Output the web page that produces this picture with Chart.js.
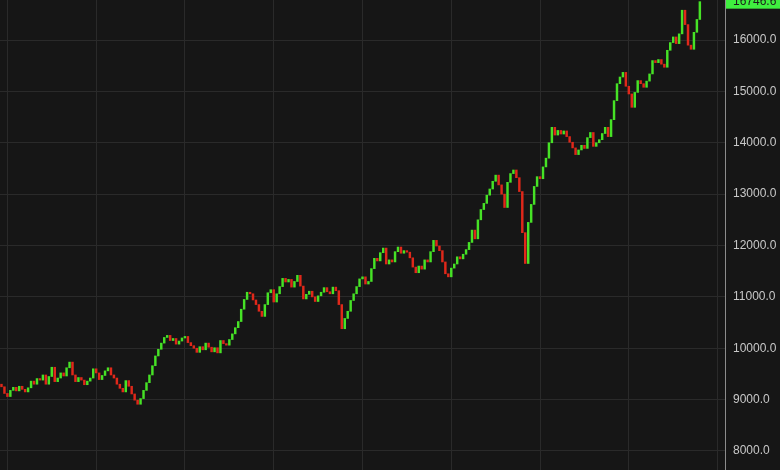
<!DOCTYPE html>
<html>
<head>
<meta charset="utf-8">
<script src="https://cdn.jsdelivr.net/npm/chart.js@4/dist/chart.umd.min.js"></script>
<style>
  body { margin: 0; background: #161616; }
  canvas { display: block; }
</style>
</head>
<body>
<canvas id="chartCanvas" width="780" height="470"></canvas>
<script>
// closing prices, one per session
const firstOpen = 9300;
const closes = [
    9250, 9120, 9060, 9180, 9240, 9170, 9260, 9200, 9150, 9230,
    9360, 9300, 9410, 9380, 9480, 9300, 9450, 9630, 9350, 9420,
    9520, 9460, 9620, 9730, 9480, 9350, 9430, 9380, 9290, 9360,
    9420, 9600, 9520, 9390, 9470, 9560, 9620, 9480, 9420, 9300,
    9220, 9150, 9370, 9260, 9110, 8990, 8910, 9020, 9180, 9330,
    9480, 9660, 9850, 9980, 10100, 10210, 10250, 10150, 10190, 10080,
    10140, 10200, 10230, 10110, 10050, 10000, 9920, 10030, 9970, 10100,
    10020, 9930, 10010, 9910, 10150, 10090, 10060, 10170, 10280, 10400,
    10520, 10760, 10950, 11090, 11060, 10940, 10850, 10720, 10620, 10850,
    11080, 11140, 10900, 11060, 11200, 11360, 11290, 11340, 11190, 11300,
    11420, 11210, 10960, 11050, 11110, 11000, 10910, 11020, 11090, 11180,
    11100, 11060, 11190, 11120, 10850, 10380, 10580, 10720, 10930, 11060,
    11200, 11350, 11390, 11250, 11300, 11550, 11750, 11700, 11860, 11950,
    11640, 11720, 11680, 11880, 11970, 11850, 11900, 11870, 11760, 11580,
    11470, 11600, 11540, 11720, 11680, 11880, 12100, 11990, 11900, 11680,
    11450, 11390, 11560, 11640, 11780, 11740, 11830, 11920, 12060, 12300,
    12130, 12500, 12700, 12820, 12980, 13100, 13250, 13370, 13180, 13000,
    12740, 13230, 13400, 13470, 13320, 13050, 12250, 11650, 12450, 12800,
    13150, 13340, 13300, 13530, 13700, 14000, 14300, 14150, 14240, 14170,
    14230, 14120, 14010, 13900, 13770, 13860, 13950, 13890, 14100, 14200,
    13930, 14000, 14060, 14180, 14300, 14120, 14450, 14820, 15150, 15280,
    15370, 15100, 14950, 14690, 14980, 15210, 15150, 15080, 15200, 15340,
    15600, 15560, 15620, 15530, 15470, 15800, 15950, 16060, 15930, 16120,
    16580, 16300, 15900, 15820, 16150, 16400, 16746.6
];
const emptySlots = 8;      // blank sessions kept on the right side
const gridEvery = 30;      // one vertical grid line every 30 sessions
const yTicks = [8000, 9000, 10000, 11000, 12000, 13000, 14000, 15000, 16000];
const yMin = 7630;
const yMax = 16779;

const upColor = 'rgb(70,226,38)';
const downColor = 'rgb(224,40,26)';

let opens = [firstOpen].concat(closes.slice(0, -1));
let bodies = closes.map((c, i) => [opens[i], c]);
let colors = closes.map((c, i) => c >= opens[i] ? upColor : downColor);
let labels = [];
for (let i = 0; i < closes.length + emptySlots; i++) {
    labels.push(String(i));
    if (i >= closes.length) bodies.push(null);
}
const lastPrice = closes[closes.length - 1];

const bgPlugin = {
    id: 'bg',
    beforeDraw(chart) {
        let ctx = chart.ctx;
        ctx.save();
        ctx.fillStyle = '#161616';
        ctx.fillRect(0, 0, chart.width, chart.height);
        ctx.restore();
    }
};

const lastPricePlugin = {
    id: 'lastPrice',
    afterDraw(chart) {
        let ctx = chart.ctx;
        let y = chart.scales.y.getPixelForValue(lastPrice);
        let x = chart.chartArea.right + 1;
        ctx.save();
        ctx.fillStyle = '#3fef3f';
        ctx.fillRect(x, y - 7, chart.width - x, 14);
        ctx.fillStyle = '#1c1c1c';
        ctx.font = '12px "Liberation Sans", Arial, sans-serif';
        ctx.textBaseline = 'middle';
        ctx.fillText(lastPrice.toFixed(1), x + 7, y);
        ctx.restore();
    }
};

let ctx = document.getElementById('chartCanvas').getContext('2d');
let chart = new Chart(ctx, {
    type: 'bar',
    data: {
        labels: labels,
        datasets: [{
            data: bodies,
            backgroundColor: colors,
            borderWidth: 0,
            barThickness: 1.8,
            minBarLength: 1
        }]
    },
    options: {
        responsive: false,
        animation: false,
        layout: { padding: 0 },
        plugins: { legend: { display: false }, tooltip: { enabled: false } },
        scales: {
            x: {
                offset: true,
                ticks: { display: false, autoSkip: false },
                grid: { color: '#2a2a2a', offset: false, drawTicks: false },
                border: { display: false },
                afterBuildTicks: s => { s.ticks = s.ticks.filter((t, i) => i % gridEvery === 2); },
                afterFit: s => { s.height = 0; s.paddingLeft = 0; s.paddingRight = 0; }
            },
            y: {
                position: 'right',
                min: yMin,
                max: yMax,
                afterBuildTicks: s => { s.ticks = yTicks.map(v => ({ value: v })); },
                afterFit: s => { s.width = 55; s.paddingTop = 0; s.paddingBottom = 0; },
                ticks: {
                    color: '#c8c8c8',
                    padding: 8,
                    font: { family: '"Liberation Sans", Arial, sans-serif', size: 12 },
                    callback: v => Number(v).toFixed(1)
                },
                grid: { color: '#2a2a2a', drawTicks: false },
                border: { color: '#8c8c8c', width: 1 }
            }
        }
    },
    plugins: [bgPlugin, lastPricePlugin]
});
</script>
</body>
</html>
